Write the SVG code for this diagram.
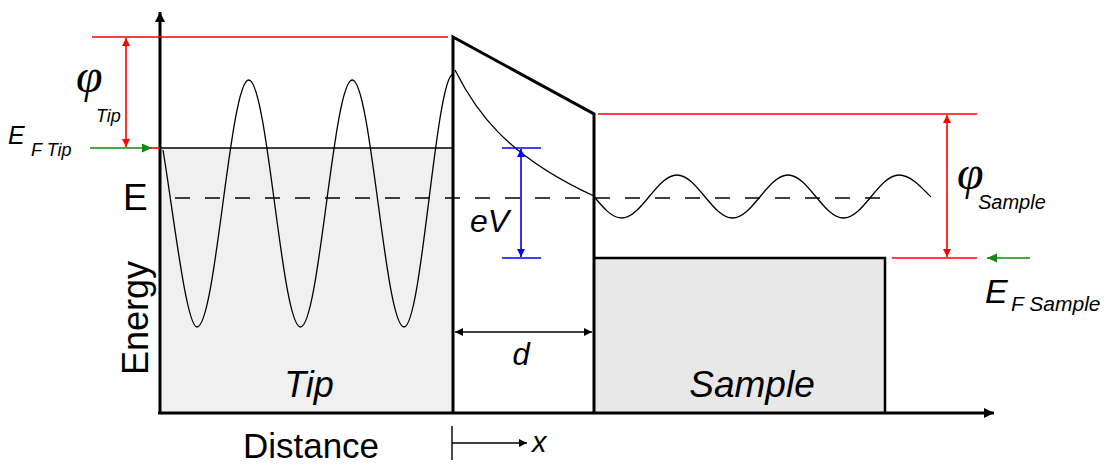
<svg xmlns="http://www.w3.org/2000/svg" width="1112" height="467" viewBox="0 0 1112 467">
<defs>
<style>
.sans{font-family:"Liberation Sans",Arial,sans-serif;fill:#000}
.it{font-style:italic}
.phi{font-family:"Liberation Serif","Times New Roman",serif;font-style:italic;fill:#000}
.red{stroke:#ff0000;stroke-width:1.6;fill:none}
.grn{stroke:#118811;stroke-width:1.6;fill:none}
.blu{stroke:#0000ff;stroke-width:1.6;fill:none}
.thick{stroke:#000;stroke-width:3;fill:none}
.thin{stroke:#000;stroke-width:1.4;fill:none}
.wave{stroke:#000;stroke-width:1.3;fill:none}
</style>
<marker id="aRed" markerUnits="userSpaceOnUse" markerWidth="10" markerHeight="10" refX="8" refY="4" orient="auto-start-reverse"><path d="M0,0 L8,4 L0,8 z" fill="#ff0000"/></marker>
<marker id="aGrn" markerUnits="userSpaceOnUse" markerWidth="12" markerHeight="10" refX="10" refY="4.5" orient="auto"><path d="M0,0 L10,4.5 L0,9 z" fill="#118811"/></marker>
<marker id="aBlu" markerUnits="userSpaceOnUse" markerWidth="10" markerHeight="10" refX="8" refY="4" orient="auto-start-reverse"><path d="M0,0 L8,4 L0,8 z" fill="#0000ff"/></marker>
<marker id="aBlk" markerUnits="userSpaceOnUse" markerWidth="10" markerHeight="10" refX="8" refY="4" orient="auto-start-reverse"><path d="M0,0 L8,4 L0,8 z" fill="#000"/></marker>
<marker id="aAxis" markerUnits="userSpaceOnUse" markerWidth="12" markerHeight="12" refX="10" refY="5" orient="auto"><path d="M0,0 L10,5 L0,10 z" fill="#000"/></marker>
</defs>
<rect width="1112" height="467" fill="#ffffff"/>

<g id="tip">
<rect x="161" y="148" width="292" height="264" fill="#f0f0f0"/>
<line x1="160" y1="148" x2="453" y2="148" class="thin"/>
<text x="309" y="397" class="sans it" font-size="36" text-anchor="middle">Tip</text>
</g>

<g id="sample">
<rect x="594" y="258" width="291" height="154" fill="#e8e8e8"/>
<polyline points="594,258 885,258 885,413" stroke="#000" stroke-width="2.5" fill="none"/>
<text x="752" y="397" class="sans it" font-size="37" text-anchor="middle">Sample</text>
</g>

<g id="barrier">
<polyline points="453,413 453,37 594,114 594,413" class="thick" stroke-linejoin="miter"/>
</g>

<g id="axes">
<line x1="160" y1="414" x2="160" y2="12" class="thick" marker-end="url(#aAxis)"/>
<line x1="158" y1="413" x2="994" y2="413" class="thick" marker-end="url(#aAxis)"/>
<text x="311" y="458" class="sans" font-size="35" text-anchor="middle">Distance</text>
<text transform="translate(148,318) rotate(-90)" class="sans" font-size="36" text-anchor="middle">Energy</text>
<text x="123" y="210" class="sans" font-size="37">E</text>
</g>

<g id="waves">
<line x1="175" y1="198" x2="882" y2="198" stroke="#000" stroke-width="1.5" stroke-dasharray="15,15"/>
<path class="wave" d="M163,150 C173,210 186.2,327 197,327 C215.85,327 229.9,80 248.75,80 C267.6,80 281.65,327 300.5,327 C319.35,327 333.4,80 352.25,80 C371.1,80 385.15,327 404,327 C421.9,327 435.5,78 453,74"/>
<path class="wave" d="M455,70 C475,110 505,155 594,196"/>
<path class="wave" d="M594,196.5 C603,207.5 611.9,218 621.5,218 C641.7,218 656.8,175 677,175 C697.2,175 712.3,218 732.5,218 C752.7,218 767.8,175 788,175 C808.2,175 823.3,218 843.5,218 C863.7,218 878.8,175 899,175 C910,175 920,185.5 931,197"/>
</g>

<g id="connectors">
<line x1="92" y1="37" x2="448" y2="37" class="red"/>
<line x1="126" y1="38" x2="126" y2="147" class="red" marker-start="url(#aRed)" marker-end="url(#aRed)"/>
<line x1="150" y1="148" x2="160" y2="148" class="red"/>
<line x1="90" y1="148" x2="152" y2="148" class="grn" marker-end="url(#aGrn)"/>
<line x1="598" y1="114" x2="977" y2="114" class="red"/>
<line x1="892" y1="258" x2="977" y2="258" class="red"/>
<line x1="947" y1="115" x2="947" y2="257" class="red" marker-start="url(#aRed)" marker-end="url(#aRed)"/>
<line x1="1030" y1="258" x2="987" y2="258" class="grn" marker-end="url(#aGrn)"/>
<line x1="502" y1="148" x2="541" y2="148" class="blu"/>
<line x1="502" y1="258" x2="541" y2="258" class="blu"/>
<line x1="521" y1="149" x2="521" y2="257" class="blu" marker-start="url(#aBlu)" marker-end="url(#aBlu)"/>
<line x1="455" y1="332" x2="592" y2="332" class="thin" marker-start="url(#aBlk)" marker-end="url(#aBlk)"/>
<line x1="452" y1="426" x2="452" y2="460" class="thin"/>
<line x1="452" y1="443" x2="527" y2="443" class="thin" marker-end="url(#aBlk)"/>
</g>

<g id="labels">
<text x="76" y="92" class="phi" font-size="48">φ</text>
<text x="96" y="122" class="sans it" font-size="18">Tip</text>
<text x="8" y="144" class="sans it" font-size="25">E</text>
<text x="31" y="156" class="sans it" font-size="18">F Tip</text>
<text x="957" y="189" class="phi" font-size="48">φ</text>
<text x="978" y="209" class="sans it" font-size="20">Sample</text>
<text x="985" y="303" class="sans it" font-size="34">E</text>
<text x="1011" y="311" class="sans it" font-size="21">F Sample</text>
<text x="470" y="232" class="sans it" font-size="32">eV</text>
<text x="521" y="365" class="sans it" font-size="31" text-anchor="middle">d</text>
<text x="532" y="452" class="sans it" font-size="29">x</text>
</g>
</svg>
